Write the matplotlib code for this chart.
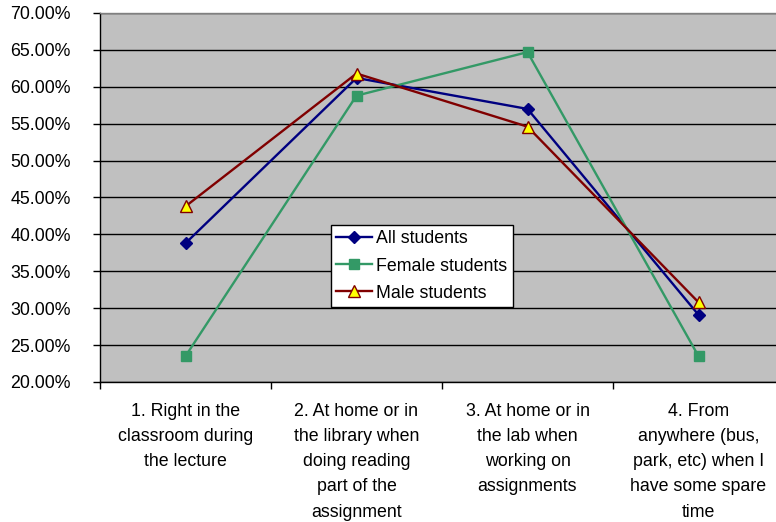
import matplotlib
matplotlib.use("Agg")
import matplotlib.pyplot as plt
from matplotlib.ticker import FuncFormatter, FixedLocator

plt.rcParams['font.family'] = ['Liberation Sans', 'DejaVu Sans']

categories = [
    "1. Right in the\nclassroom during\nthe lecture",
    "2. At home or in\nthe library when\ndoing reading\npart of the\nassignment",
    "3. At home or in\nthe lab when\nworking on\nassignments",
    "4. From\nanywhere (bus,\npark, etc) when I\nhave some spare\ntime",
]
all_students = [38.8, 61.2, 57.0, 29.1]
female_students = [23.5, 58.8, 64.7, 23.5]
male_students = [43.8, 61.8, 54.6, 30.8]
y_ticks = [20, 25, 30, 35, 40, 45, 50, 55, 60, 65, 70]

FS = 12.8

fig = plt.figure(figsize=(7.76, 5.22), dpi=100)
ax = fig.add_axes([100 / 776, 1 - 382 / 522, 684 / 776, 369 / 522])
ax.set_facecolor('#C0C0C0')

x = list(range(len(categories)))
ax.plot(x, all_students, color='#000080', lw=1.7, marker='D', ms=6,
        mfc='#000080', mec='#000080', label='All students', zorder=3)
ax.plot(x, female_students, color='#339966', lw=1.7, marker='s', ms=7,
        mfc='#339966', mec='#339966', label='Female students', zorder=3)
ax.plot(x, male_students, color='#800000', lw=1.7, marker='^', ms=8,
        mfc='#FFFF00', mec='#800000', mew=1.0, label='Male students', zorder=3)

ax.set_xlim(-0.5, len(categories) - 0.5)
ax.set_ylim(20, 70)
ax.yaxis.set_major_locator(FixedLocator(y_ticks))
ax.yaxis.set_major_formatter(FuncFormatter(lambda v, p: f"{v:.2f}%"))
ax.grid(axis='y', color='black', lw=1.0, zorder=1)
ax.set_axisbelow(True)

ax.set_xticks(x)
ax.set_xticklabels(categories, fontsize=FS, linespacing=1.63, va='top')
ax.set_xticks([i - 0.5 for i in range(len(categories) + 1)], minor=True)
ax.tick_params(axis='x', which='major', length=0, pad=15)
ax.tick_params(axis='x', which='minor', length=5, width=1, direction='out', color='black')
ax.tick_params(axis='y', length=5, width=1, direction='out', labelsize=FS, pad=16)

ax.spines['left'].set_color('black')
ax.spines['bottom'].set_color('black')
ax.spines['top'].set_color('#808080')
ax.spines['right'].set_color('#808080')
for s in ax.spines.values():
    s.set_linewidth(1.0)

leg = ax.legend(loc='lower left', bbox_to_anchor=(231 / 684, 75 / 369),
                fontsize=FS, frameon=True, fancybox=False, framealpha=1,
                edgecolor='black', facecolor='white', borderpad=0.3,
                handlelength=2.0, handletextpad=0.25, labelspacing=0.57,
                borderaxespad=0)
leg.get_frame().set_linewidth(1.0)

fig.savefig('out.png', dpi=100)
